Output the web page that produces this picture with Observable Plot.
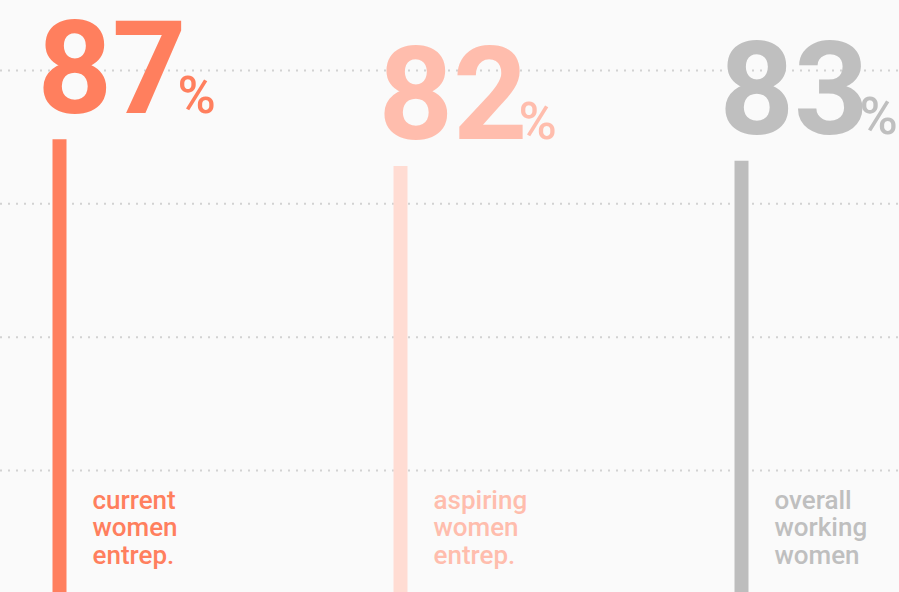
<!DOCTYPE html>
<html>
<head>
<meta charset="utf-8">
<script src="https://cdn.jsdelivr.net/npm/d3@7"></script>
<script src="https://cdn.jsdelivr.net/npm/@observablehq/plot@0.6"></script>
<style>
  html, body { margin: 0; padding: 0; background: #fafafa; overflow: hidden; }
  #chart svg { display: block; background: #fafafa; }
</style>
</head>
<body>
<div id="chart"></div>
<script>
// Data
const categories = ["current", "aspiring", "overall"];
const values = [87, 82, 83];
const labels = ["current\nwomen\nentrep.", "aspiring\nwomen\nentrep.", "overall\nworking\nwomen"];
const gridTicks = [25, 50, 75, 100];

// Styles (kept separate from data)
const barColors = {current: "#ff7f5e", aspiring: "#ffdcd3", overall: "#bdbdbd"};
const textColors = {current: "#ff7f5e", aspiring: "#ffbdad", overall: "#bfbfbf"};

const data = categories.map((c, i) => ({cat: c, value: values[i], label: labels[i]}));

const font = "Roboto, 'Open Sans', sans-serif";

const chart = Plot.plot({
  width: 899,
  height: 592,
  margin: 0,
  style: {background: "#fafafa", fontFamily: font, overflow: "hidden"},
  x: {type: "point", domain: categories, range: [58, 741], padding: 0, axis: null},
  y: {domain: [0, 100], range: [603.3, 70], axis: null},
  marks: [
    Plot.ruleY(gridTicks, {stroke: "#d2d2d2", strokeWidth: 2, strokeDasharray: "2,6"}),
    Plot.ruleX(data, {x: "cat", y1: 0, y2: "value", stroke: d => barColors[d.cat], strokeWidth: 14}),
    Plot.text(data, {
      x: "cat", y: "value", text: d => String(d.value),
      fill: d => textColors[d.cat], fontSize: 130, fontWeight: 700,
      textAnchor: "start", lineAnchor: "bottom", dx: -22, dy: -27
    }),
    Plot.text(data, {
      x: "cat", y: "value", text: () => "%",
      fill: d => textColors[d.cat], fontSize: 52, fontWeight: 500,
      textAnchor: "start", lineAnchor: "bottom", dx: 118, dy: -27
    }),
    Plot.text(data, {
      x: "cat", frameAnchor: "bottom", text: "label",
      fill: d => textColors[d.cat], fontSize: 26, fontWeight: 500,
      textAnchor: "start", lineAnchor: "bottom", lineHeight: 1.04, dx: 33, dy: -29
    })
  ]
});
document.getElementById("chart").appendChild(chart);
</script>
</body>
</html>
